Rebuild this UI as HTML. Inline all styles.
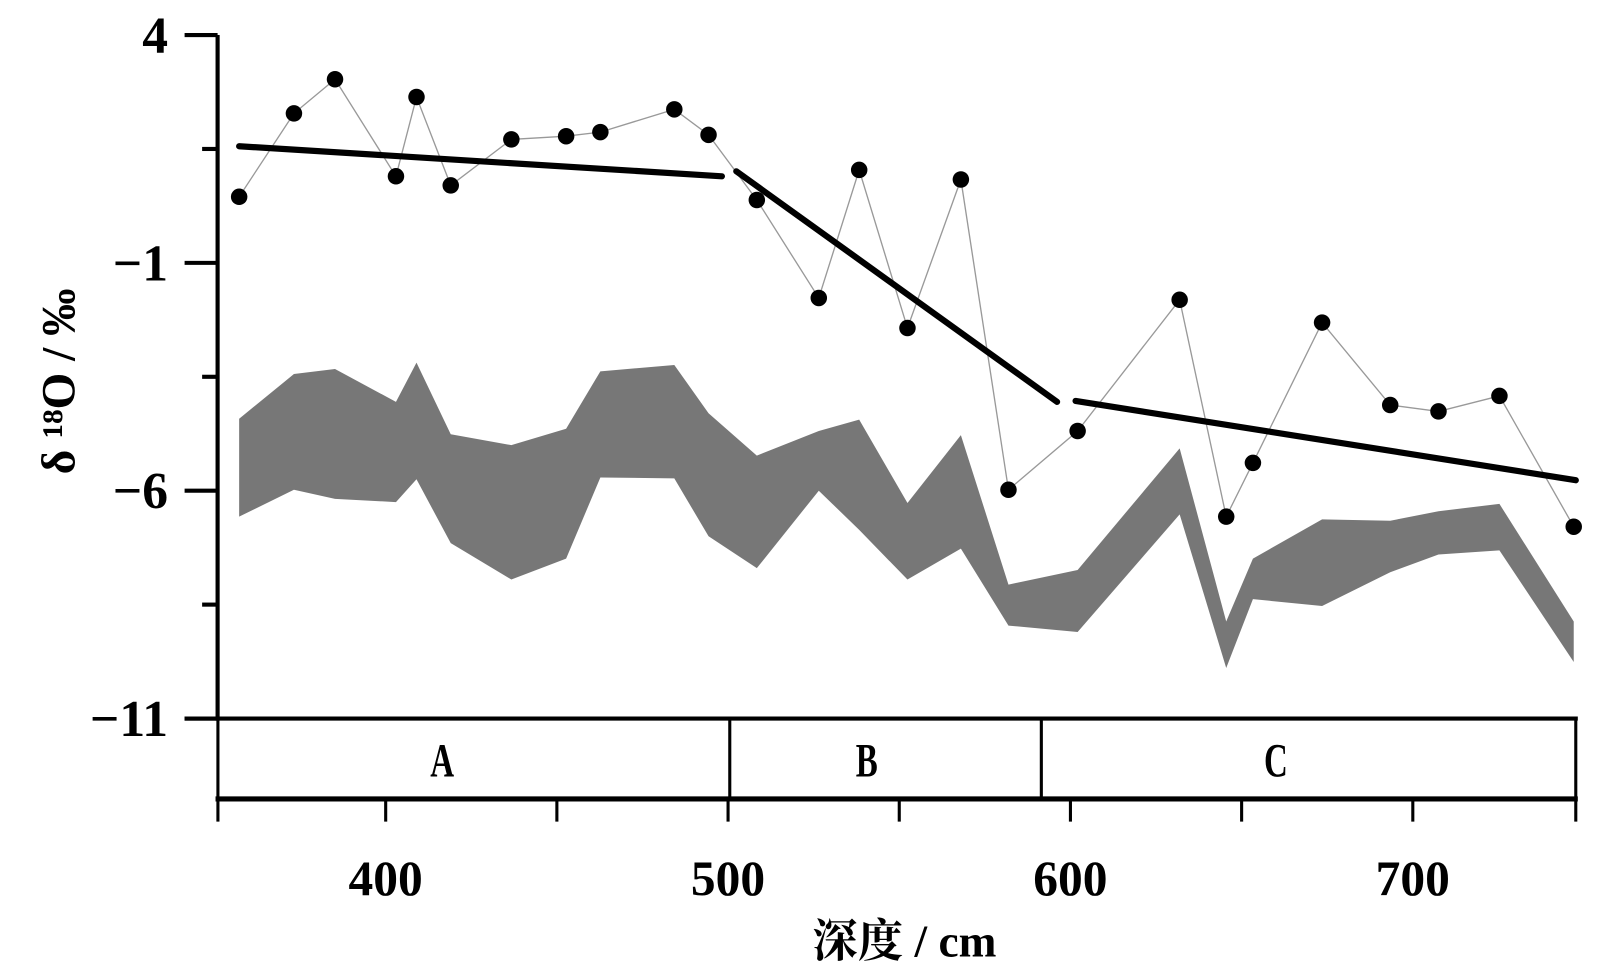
<!DOCTYPE html>
<html><head><meta charset="utf-8"><style>
html,body{margin:0;padding:0;background:#fff;}
svg{display:block;}
text{font-family:"Liberation Serif","Noto Serif CJK SC",serif;font-weight:bold;fill:#000;}
</style></head><body>
<svg id="chart" width="1617" height="968" viewBox="0 0 1568 939" preserveAspectRatio="none" xmlns="http://www.w3.org/2000/svg">
<g id="band"></g>
<g id="series"></g>
<g id="trends"></g>
<g id="axes"></g>
</svg>
<script>
const depths=[357.2,373.2,385.2,403,409,419,436.7,452.7,462.7,484.3,494.3,508.4,526.5,538.3,552.4,568,581.9,602.1,631.9,645.5,653.3,673.5,693.4,707.5,725.3,747];
const values=[0.45,2.28,3.03,0.90,2.64,0.70,1.71,1.78,1.87,2.37,1.81,0.38,-1.77,1.04,-2.43,0.83,-5.98,-4.69,-1.81,-6.57,-5.39,-2.31,-4.12,-4.26,-3.92,-6.79];
const bandUpper=[-4.42,-3.44,-3.33,-4.05,-3.19,-4.76,-5.00,-4.64,-3.38,-3.24,-4.30,-5.23,-4.69,-4.44,-6.27,-4.78,-8.06,-7.74,-5.07,-8.87,-7.49,-6.63,-6.66,-6.45,-6.29,-8.87];
const bandLower=[-6.57,-5.98,-6.18,-6.25,-5.75,-7.15,-7.95,-7.49,-5.71,-5.73,-7.00,-7.70,-6.00,-6.86,-7.95,-7.27,-8.96,-9.10,-6.52,-9.89,-8.38,-8.53,-7.79,-7.40,-7.31,-9.76];
const trendStart=[357.2,502.4,601.5];
const trendEnd=[498.2,596.1,747.6];
const trendStartVal=[1.56,1.01,-4.03];
const trendEndVal=[0.90,-4.05,-5.77];
const yTicks=[4,1.5,-1,-3.5,-6,-8.5,-11];
const yLabels=[4,-1,-6,-11];
const xTicks=[351,400,450,500,550,600,650,700,747.6];
const xLabels=[400,500,600,700];
const zones=["A","B","C"];
const zoneBounds=[351,500.5,591.5,747.6];
const zoneLabelDepth=[416.5,540.5,660];

const NS="http://www.w3.org/2000/svg";
const X=d=>374+(d-400)*3.32;
const Y=v=>34+(4-v)*44.2;
function mk(tag,attrs,parent){const e=document.createElementNS(NS,tag);for(const k in attrs)e.setAttribute(k,attrs[k]);parent.appendChild(e);return e;}
const bandG=document.getElementById('band'),seriesG=document.getElementById('series'),trendsG=document.getElementById('trends'),axesG=document.getElementById('axes');

let pts=depths.map((d,i)=>X(d)+','+Y(bandUpper[i]));
for(let i=depths.length-1;i>=0;i--)pts.push(X(depths[i])+','+Y(bandLower[i]));
const poly=mk('polygon',{points:pts.join(' '),fill:'#777'},bandG);



const sline=mk('polyline',{points:depths.map((d,i)=>X(d)+','+Y(values[i])).join(' '),fill:'none',stroke:'#999','stroke-width':1.3},seriesG);


depths.forEach((d,i)=>{const c=mk('circle',{cx:X(d),cy:Y(values[i]),r:8,fill:'#000'},seriesG);

});

trendStart.forEach((s,i)=>{const l=mk('line',{x1:X(s),y1:Y(trendStartVal[i]),x2:X(trendEnd[i]),y2:Y(trendEndVal[i]),stroke:'#000','stroke-width':6,'stroke-linecap':'round'},trendsG);

});

const ya=mk('line',{x1:211,y1:Y(4),x2:211,y2:Y(-11)+2,stroke:'#000','stroke-width':4},axesG);


yTicks.forEach(v=>{const major=yLabels.includes(v);const t=mk('line',{x1:major?179:196,y1:Y(v),x2:211,y2:Y(v),stroke:'#000','stroke-width':4},axesG);

});
yLabels.forEach(v=>{const t=mk('text',{x:163,y:Y(v)+17,'text-anchor':'end','font-size':50,'font-weight':'normal'},axesG);t.textContent=(v<0?'\u2212':'')+Math.abs(v);

});
const yt=mk('text',{transform:'translate(72,370) rotate(-90)','text-anchor':'middle','font-size':46},axesG);
yt.textContent='\u03B4 \u00B9\u2078O / \u2030';



const zoneTop=mk('line',{x1:179,y1:697,x2:1530,y2:697,stroke:'#000','stroke-width':4},axesG);


const zoneBot=mk('line',{x1:209,y1:775,x2:1530,y2:775,stroke:'#000','stroke-width':5},axesG);


zoneBounds.forEach(b=>{const l=mk('line',{x1:X(b),y1:697,x2:X(b),y2:775,stroke:'#000','stroke-width':3},axesG);

});
zones.forEach((z,i)=>{const cx=X(zoneLabelDepth[i]);const t=mk('text',{x:0,y:0,transform:`translate(${cx},753) scale(0.8,1.15)`,'text-anchor':'middle','font-size':40},axesG);t.textContent=z;

});
xTicks.forEach(d=>{const t=mk('line',{x1:X(d),y1:775,x2:X(d),y2:797,stroke:'#000','stroke-width':3},axesG);

});
xLabels.forEach(d=>{const t=mk('text',{x:X(d),y:868,'text-anchor':'middle','font-size':48},axesG);t.textContent=d;

});
const xt=mk('text',{x:877,y:928,'text-anchor':'middle','font-size':44},axesG);
xt.textContent='深度 / cm';


</script>
</body></html>
